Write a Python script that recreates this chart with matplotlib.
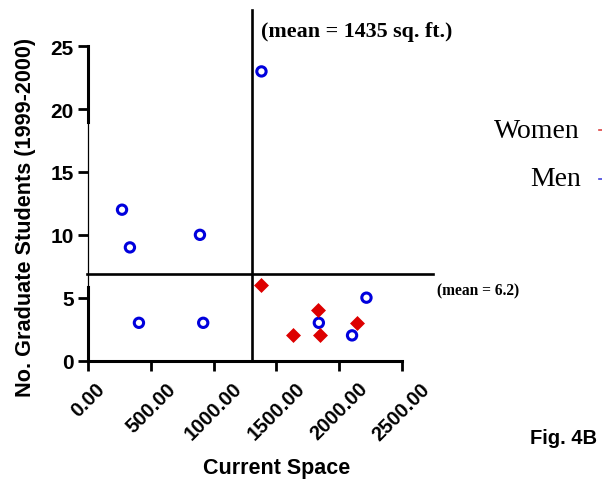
import matplotlib.pyplot as plt
from matplotlib.lines import Line2D

plt.rcParams["font.family"] = ["Liberation Sans", "DejaVu Sans"]

# data
men_space = [269, 332, 891, 1382, 404, 917, 1840, 2220, 2105]
men_students = [12, 9, 10, 23, 3, 3, 3, 5, 2]
women_space = [1382, 1832, 1635, 1847, 2148]
women_students = [6, 4, 2, 2, 3]

x_ticks = [0, 500, 1000, 1500, 2000, 2500]
x_tick_labels = ["0.00", "500.00", "1000.00", "1500.00", "2000.00", "2500.00"]
y_ticks = [0, 5, 10, 15, 20, 25]

mean_space_line = 1310   # where the vertical line is drawn
mean_students_line = 6.9  # where the horizontal line is drawn

fig = plt.figure(figsize=(6.02, 4.81), dpi=100)
ax = fig.add_axes([0.1467, 0.2484, 0.5203, 0.6533])

ax.scatter(men_space, men_students, s=45, facecolors="none", edgecolors="#0000dd",
           linewidths=2.2, zorder=3, clip_on=False)
ax.scatter(women_space, women_students, s=58, marker="D", color="#dd0000",
           linewidths=0, zorder=3, clip_on=False)

ax.set_xlim(0, 2500)
ax.set_ylim(0, 25)

# mean lines, running past the axes
ax.plot([mean_space_line, mean_space_line], [0, 27.9], color="black", lw=1.9,
        clip_on=False, zorder=2)
ax.plot([-13, 2749], [mean_students_line, mean_students_line], color="black", lw=1.9,
        clip_on=False, zorder=2)

ax.text(1375, 26.2, "(mean = 1435 sq. ft.)", family="Liberation Serif", weight="bold",
        fontsize=15.8, va="center", ha="left")
ax.text(2781, 5.6, "(mean = 6.2)", family="Liberation Serif", weight="bold",
        fontsize=11.2, va="center", ha="left")

for s in ["top", "right", "left"]:
    ax.spines[s].set_visible(False)
ax.spines["bottom"].set_linewidth(2.2)

# left spine: thin in the middle, thick at the ends
trans = ax.get_yaxis_transform()
ax.plot([0, 0], [0, 25], color="black", lw=0.9, transform=trans, clip_on=False)
ax.plot([0, 0], [0, 5.85], color="black", lw=2.2, transform=trans, clip_on=False)
ax.plot([0, 0], [18.97, 25], color="black", lw=2.2, transform=trans, clip_on=False)

ax.set_xticks(x_ticks)
ax.set_xticklabels(x_tick_labels, rotation=45, fontsize=14.5, weight="bold")
ax.set_yticks(y_ticks)
ax.set_yticklabels([str(v) for v in y_ticks], fontsize=15, weight="bold")
ax.tick_params(axis="both", direction="out", length=7, width=2)
ax.tick_params(axis="x", pad=6)

ax.set_xlabel("Current Space", fontsize=15.5, weight="bold", va="center")
ax.xaxis.set_label_coords(0.6, -0.339)
ax.set_ylabel("No. Graduate Students (1999-2000)", fontsize=15.6, weight="bold", va="center")
ax.yaxis.set_label_coords(-0.202, 0.46)

# legend fragments, cut at the right edge
fig.text(580 / 602, 1 - 131 / 481, "Women", family="Liberation Serif", fontsize=20,
         ha="right", va="center")
fig.text(581 / 602, 1 - 180 / 481, "Men", family="Liberation Serif", fontsize=20,
         ha="right", va="center")
fig.add_artist(Line2D([0.995, 1.0], [1 - 131 / 481] * 2, color="#dd4444", lw=1.2,
                      transform=fig.transFigure))
fig.add_artist(Line2D([0.995, 1.0], [1 - 180 / 481] * 2, color="#4444dd", lw=1.2,
                      transform=fig.transFigure))

fig.text(597 / 602, 1 - 439 / 481, "Fig. 4B", fontsize=14.5, weight="bold", ha="right",
         va="center")

fig.savefig("out.png", dpi=100)
